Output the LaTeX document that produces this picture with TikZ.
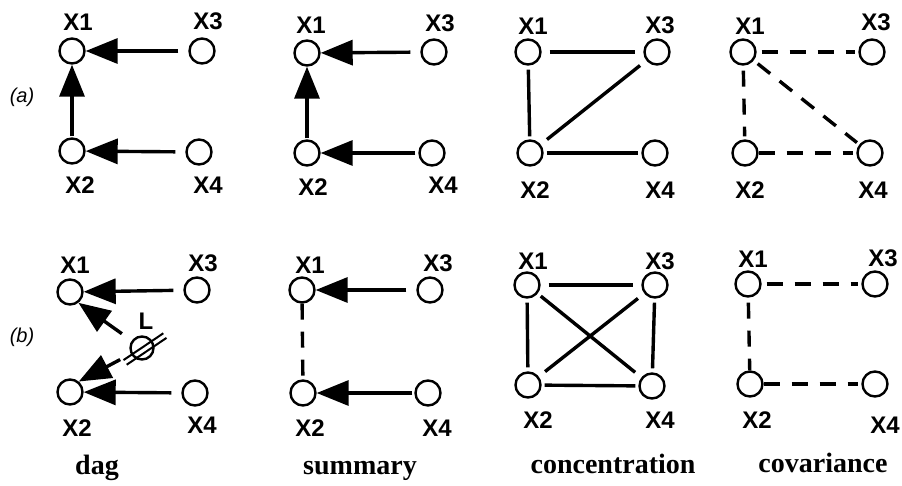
\documentclass[tikz,border=0pt]{standalone}
\usepackage{fontspec}
\setmainfont{Liberation Serif}
\newfontfamily\labfont{Liberation Sans}
\usetikzlibrary{arrows.meta}
\begin{document}
\begin{tikzpicture}[x=1pt,y=-1pt,
  vtx/.style={circle, draw, line width=2.4pt, minimum size=25pt, inner sep=0pt},
  lab/.style={font=\labfont\bfseries\fontsize{24}{26}\selectfont, inner sep=0pt},
  tag/.style={font=\labfont\itshape\fontsize{20}{22}\selectfont, inner sep=0pt},
  captext/.style={font=\bfseries\fontsize{28}{30}\selectfont, inner sep=0pt, anchor=base},
  arr/.style={line width=3.4pt, -{Triangle[length=32pt,width=25pt]}, shorten <=10pt},
  und/.style={line width=3.4pt, shorten <=8pt, shorten >=8pt},
  dsh/.style={line width=3.4pt, dash pattern=on 16pt off 12pt, shorten <=5pt, shorten >=3pt},
  hatch/.style={line width=2pt}]
\useasboundingbox (0,0) rectangle (902,485);
% ---------- row (a) ----------
\node[tag] (ta) at (22,97) {(a)};
% dag (a)
\node[vtx] (a1x1) at (72,51) {};
\node[vtx] (a1x3) at (202,51) {};
\node[vtx] (a1x2) at (72,151) {};
\node[vtx] (a1x4) at (199,152) {};
\node[lab] (a1l1) at (78,22) {X1};
\node[lab] (a1l3) at (208,21) {X3};
\node[lab] (a1l2) at (80,185) {X2};
\node[lab] (a1l4) at (208,185) {X4};
\draw[arr] (a1x3) -- (a1x1);
\draw[arr] (a1x4) -- (a1x2);
\draw[arr, shorten <=1pt] (a1x2) -- (a1x1);
% summary (a)
\node[vtx] (a2x1) at (307,53) {};
\node[vtx] (a2x3) at (434,52) {};
\node[vtx] (a2x2) at (307,153) {};
\node[vtx] (a2x4) at (432,153) {};
\node[lab] (a2l1) at (311,25) {X1};
\node[lab] (a2l3) at (440,23) {X3};
\node[lab] (a2l2) at (313,187) {X2};
\node[lab] (a2l4) at (443,185) {X4};
\draw[arr] (a2x3) -- (a2x1);
\draw[arr, shorten <=3pt] (a2x4) -- (a2x2);
\draw[arr, shorten <=1pt] (a2x2) -- (a2x1);
% concentration (a)
\node[vtx] (a3x1) at (528,52) {};
\node[vtx] (a3x3) at (657,52) {};
\node[vtx] (a3x2) at (530,153) {};
\node[vtx] (a3x4) at (655,153) {};
\node[lab] (a3l1) at (533,26) {X1};
\node[lab] (a3l3) at (660,25) {X3};
\node[lab] (a3l2) at (535,190) {X2};
\node[lab] (a3l4) at (660,190) {X4};
\draw[und] (a3x1) -- (a3x3);
\draw[und, shorten <=4pt, shorten >=3pt] (a3x1) -- (a3x2);
\draw[und] (a3x2) -- (a3x3);
\draw[und, shorten <=3pt, shorten >=3pt] (a3x2) -- (a3x4);
% covariance (a)
\node[vtx] (a4x1) at (743,52) {};
\node[vtx] (a4x3) at (872,52) {};
\node[vtx] (a4x2) at (745,153) {};
\node[vtx] (a4x4) at (870,153) {};
\node[lab] (a4l1) at (750,26) {X1};
\node[lab] (a4l3) at (876,22) {X3};
\node[lab] (a4l2) at (750,190) {X2};
\node[lab] (a4l4) at (873,190) {X4};
\draw[dsh] (a4x1) -- (a4x3);
\draw[dsh] (a4x1) -- (a4x2);
\draw[dsh] (a4x1) -- (a4x4);
\draw[dsh, shorten <=0pt] (a4x2) -- (a4x4);
% ---------- row (b) ----------
\node[tag] (tb) at (22,337) {(b)};
% dag (b)
\node[vtx] (b1x1) at (70,292) {};
\node[vtx] (b1x3) at (197,290) {};
\node[vtx] (b1x2) at (70,392) {};
\node[vtx] (b1x4) at (195,393) {};
\node[vtx, minimum size=23pt] (b1L) at (142,348) {};
\node[lab] (b1l1) at (75,265) {X1};
\node[lab] (b1l3) at (203,263) {X3};
\node[lab] (b1l2) at (77,428) {X2};
\node[lab] (b1l4) at (202,425) {X4};
\node[lab] (b1lL) at (146,321) {L};
\draw[arr] (b1x3) -- (b1x1);
\draw[arr] (b1x4) -- (b1x2);
\draw[arr, shorten <=12pt] (b1L) -- (b1x1.-52);
\draw[arr, shorten <=12pt] (b1L) -- (b1x2.50);
\draw[hatch] ([shift={(-18.5,12.1)}]b1L.center) -- ++(39.8,-26.8);
\draw[hatch] ([shift={(-15.3,16.7)}]b1L.center) -- ++(39.8,-26.8);
\node[captext] (cdag) at (97,474) {dag};
% summary (b)
\node[vtx] (b2x1) at (302,290) {};
\node[vtx] (b2x3) at (430,290) {};
\node[vtx] (b2x2) at (303,393) {};
\node[vtx] (b2x4) at (428,393) {};
\node[lab] (b2l1) at (310,265) {X1};
\node[lab] (b2l3) at (438,263) {X3};
\node[lab] (b2l2) at (310,428) {X2};
\node[lab] (b2l4) at (437,428) {X4};
\draw[arr] (b2x3) -- (b2x1);
\draw[arr, shorten <=2pt] (b2x4) -- (b2x2);
\draw[dsh, shorten <=0pt, shorten >=0pt] (b2x1) -- (b2x2);
\node[captext] (csum) at (360,474) {summary};
% concentration (b)
\node[vtx] (b3x1) at (527,285) {};
\node[vtx] (b3x3) at (655,285) {};
\node[vtx] (b3x2) at (528,385) {};
\node[vtx] (b3x4) at (652,386) {};
\node[lab] (b3l1) at (533,261) {X1};
\node[lab] (b3l3) at (660,261) {X3};
\node[lab] (b3l2) at (538,420) {X2};
\node[lab] (b3l4) at (660,420) {X4};
\draw[und] (b3x1) -- (b3x3);
\draw[und, shorten <=4pt, shorten >=4pt] (b3x1) -- (b3x2);
\draw[und, shorten <=4pt, shorten >=4pt] (b3x3) -- (b3x4);
\draw[und, shorten <=3pt, shorten >=3pt] (b3x2) -- (b3x4);
\draw[und, shorten <=4pt] (b3x1) -- (b3x4);
\draw[und] (b3x2) -- (b3x3);
\node[captext] (ccon) at (613,473) {concentration};
% covariance (b)
\node[vtx] (b4x1) at (748,284) {};
\node[vtx] (b4x3) at (875,284) {};
\node[vtx] (b4x2) at (750,384) {};
\node[vtx] (b4x4) at (875,384) {};
\node[lab] (b4l1) at (753,259) {X1};
\node[lab] (b4l3) at (883,258) {X3};
\node[lab] (b4l2) at (757,420) {X2};
\node[lab] (b4l4) at (885,425) {X4};
\draw[dsh] (b4x1) -- (b4x3);
\draw[dsh, shorten >=0pt] (b4x1) -- (b4x2);
\draw[dsh, shorten <=0pt] (b4x2) -- (b4x4);
\node[captext] (ccov) at (823,472) {covariance};
\end{tikzpicture}
\end{document}
